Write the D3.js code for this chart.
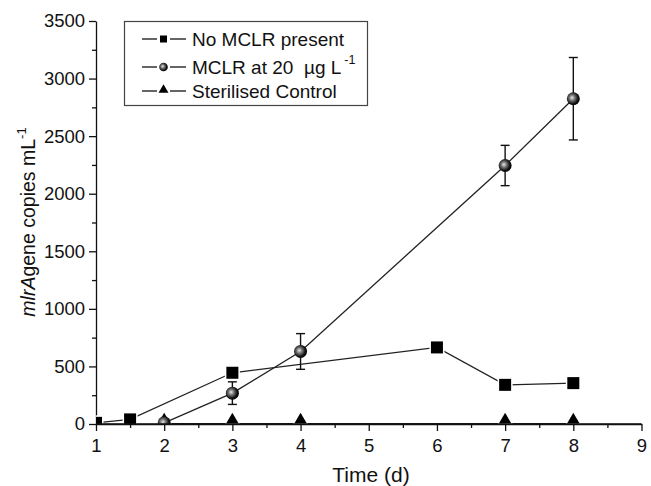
<!DOCTYPE html>
<html><head><meta charset="utf-8">
<script src="https://cdn.jsdelivr.net/npm/d3@7"></script>
<style>body{margin:0;background:#fff}svg{display:block}text{font-family:Arial,"Liberation Sans",sans-serif}</style>
</head><body><svg id="c" width="651" height="486"></svg>
<script>
const noMclrX = [1, 1.5, 3, 6, 7, 8];
const noMclrY = [10, 40, 445, 665, 340, 355];
const mclrX = [2, 3, 4, 7, 8];
const mclrY = [10, 268, 630, 2245, 2825];
const mclrErr = [0, 98, 155, 175, 358];
const sterX = [2, 3, 4, 7, 8];
const sterY = [2, 2, 2, 2, 2];
const xTicks = [1, 2, 3, 4, 5, 6, 7, 8, 9];
const yTicks = [0, 500, 1000, 1500, 2000, 2500, 3000, 3500];
const legendLabels = ["No MCLR present", "MCLR at 20 \u00a0\u00b5g L", "Sterilised Control"];

const svg = d3.select("#c");
const x = d3.scaleLinear().domain([1, 9]).range([96, 641.5]);
const y = d3.scaleLinear().domain([0, 3500]).range([424, 21]);
const ink = "#111";

const defs = svg.append("defs");
const g = defs.append("radialGradient").attr("id", "ball").attr("cx", "42%").attr("cy", "45%").attr("r", "60%").attr("fx", "40%").attr("fy", "42%");
g.append("stop").attr("offset", "0%").attr("stop-color", "#e8e8e8");
g.append("stop").attr("offset", "35%").attr("stop-color", "#777");
g.append("stop").attr("offset", "75%").attr("stop-color", "#111");
g.append("stop").attr("offset", "100%").attr("stop-color", "#000");
defs.append("clipPath").attr("id", "plot").append("rect").attr("x", 96).attr("y", 0).attr("width", 560).attr("height", 424);

// axes
const xAxis = svg.append("g").attr("transform", "translate(0,424)")
  .call(d3.axisBottom(x).tickValues(xTicks).tickFormat(d3.format("d")).tickSize(7).tickSizeOuter(0));
svg.append("g").attr("transform", "translate(0,424)")
  .call(d3.axisBottom(x).tickValues(d3.range(1.5, 9, 1)).tickFormat("").tickSize(4).tickSizeOuter(0))
  .select(".domain").remove();
const yAxis = svg.append("g").attr("transform", "translate(96,0)")
  .call(d3.axisLeft(y).tickValues(yTicks).tickFormat(d3.format("d")).tickSize(7).tickSizeOuter(0));
svg.append("g").attr("transform", "translate(96,0)")
  .call(d3.axisLeft(y).tickValues(d3.range(250, 3500, 500)).tickFormat("").tickSize(4).tickSizeOuter(0))
  .select(".domain").remove();
svg.selectAll(".domain, .tick line").attr("stroke", ink).attr("stroke-width", 1.3);
xAxis.selectAll("text").attr("font-size", 18.5).attr("fill", ink).attr("dy", "0.95em");
yAxis.selectAll("text").attr("font-size", 18.5).attr("fill", ink).attr("dx", "-0.05em");

// axis titles
svg.append("text").attr("x", 371).attr("y", 482).attr("text-anchor", "middle").attr("font-size", 21).attr("fill", ink).text("Time (d)");
const yt = svg.append("text").attr("transform", "translate(35,222) rotate(-90)").attr("text-anchor", "middle").attr("font-size", 19.5).attr("fill", ink);
yt.append("tspan").attr("font-style", "italic").text("mlrA");
yt.append("tspan").text("gene copies mL");
yt.append("tspan").attr("font-size", 13).attr("dy", -9).text("-1");

// lines
const plot = svg.append("g").attr("clip-path", "url(#plot)");
const line = d3.line().x(d => x(d[0])).y(d => y(d[1]));
function series(xs, ys) { return xs.map((v, i) => [v, ys[i]]); }
const sNo = series(noMclrX, noMclrY), sM = series(mclrX, mclrY), sS = series(sterX, sterY);
[sS, sNo, sM].forEach(s => plot.append("path").datum(s).attr("d", line).attr("fill", "none").attr("stroke", "#222").attr("stroke-width", 1.3));

// error bars
const eb = plot.append("g").attr("stroke", ink).attr("stroke-width", 1.4);
sM.forEach((d, i) => {
  const e = mclrErr[i]; if (!e) return;
  const cx = x(d[0]);
  eb.append("line").attr("x1", cx).attr("x2", cx).attr("y1", y(d[1] - e)).attr("y2", y(d[1] + e));
  eb.append("line").attr("x1", cx - 4.5).attr("x2", cx + 4.5).attr("y1", y(d[1] - e)).attr("y2", y(d[1] - e));
  eb.append("line").attr("x1", cx - 4.5).attr("x2", cx + 4.5).attr("y1", y(d[1] + e)).attr("y2", y(d[1] + e));
});

// markers
const tri = d3.symbol().type(d3.symbolTriangle).size(68);
plot.append("g").selectAll("path").data(sS).join("path")
  .attr("transform", d => `translate(${x(d[0])},${y(d[1]) - 3.8})`).attr("d", tri)
  .attr("fill", "#000").attr("stroke", "#fff").attr("stroke-width", 2).attr("paint-order", "stroke");
plot.append("g").selectAll("rect").data(sNo).join("rect")
  .attr("x", d => x(d[0]) - 6).attr("y", d => y(d[1]) - 6).attr("width", 12).attr("height", 12)
  .attr("fill", "#000").attr("stroke", "#fff").attr("stroke-width", 3).attr("paint-order", "stroke");
plot.append("g").selectAll("circle").data(sM).join("circle")
  .attr("cx", d => x(d[0])).attr("cy", d => y(d[1])).attr("r", 6.5)
  .attr("fill", "url(#ball)");
// re-draw axis line over clipped markers
svg.append("line").attr("x1", 96).attr("x2", 641.5).attr("y1", 424).attr("y2", 424).attr("stroke", ink).attr("stroke-width", 1.3);

// legend
const lg = svg.append("g");
lg.append("rect").attr("x", 124.5).attr("y", 21.5).attr("width", 243).attr("height", 84).attr("fill", "#fff").attr("stroke", "#444").attr("stroke-width", 1.2);
const rows = [39, 67, 91];
rows.forEach((ry, i) => {
  lg.append("line").attr("x1", 142).attr("x2", 157).attr("y1", ry).attr("y2", ry).attr("stroke", ink).attr("stroke-width", 1.3);
  lg.append("line").attr("x1", 170).attr("x2", 186).attr("y1", ry).attr("y2", ry).attr("stroke", ink).attr("stroke-width", 1.3);
  if (i === 0) lg.append("rect").attr("x", 160).attr("y", ry - 3.5).attr("width", 7).attr("height", 7).attr("fill", "#000");
  if (i === 1) lg.append("circle").attr("cx", 163.5).attr("cy", ry).attr("r", 4.3).attr("fill", "url(#ball)");
  if (i === 2) lg.append("path").attr("transform", `translate(163.5,${ry - 1})`).attr("d", d3.symbol().type(d3.symbolTriangle).size(42)).attr("fill", "#000");
  const t = lg.append("text").attr("x", 192).attr("y", ry + 6.5).attr("font-size", 19).attr("fill", ink).text(legendLabels[i]);
  if (i === 1) t.append("tspan").attr("font-size", 12.5).attr("dy", -10).attr("dx", 3).text("-1");
});
</script></body></html>
